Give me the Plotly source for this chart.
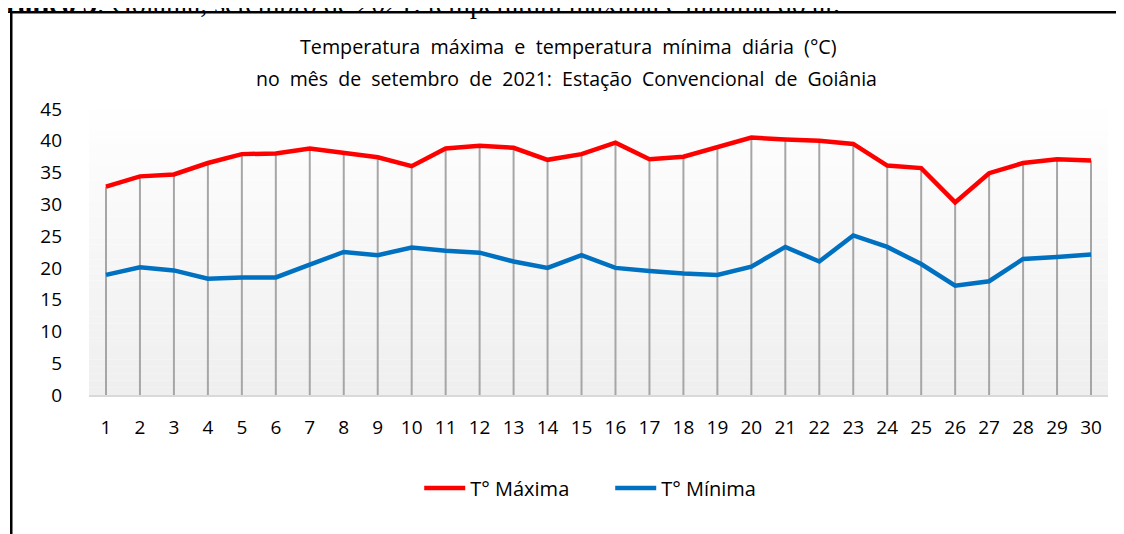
import plotly.graph_objects as go

# dias de setembro de 2021
dias = list(range(1, 31))

# temperatura máxima diária (°C)
t_max = [32.8, 34.4, 34.7, 36.5, 37.9, 38.0, 38.8, 38.1, 37.4, 36.0,
         38.8, 39.2, 38.9, 37.0, 37.9, 39.7, 37.1, 37.5, 39.0, 40.5,
         40.2, 40.0, 39.5, 36.1, 35.7, 30.3, 34.9, 36.5, 37.1, 36.9]

# temperatura mínima diária (°C)
t_min = [18.9, 20.1, 19.6, 18.3, 18.5, 18.5, 20.5, 22.5, 22.0, 23.2,
         22.7, 22.4, 21.0, 20.0, 22.0, 20.0, 19.5, 19.1, 18.9, 20.2,
         23.3, 21.0, 25.1, 23.3, 20.6, 17.2, 17.9, 21.4, 21.7, 22.1]

y_ticks = list(range(0, 50, 5))

FONTE = 'Open Sans'

fig = go.Figure()

# linhas verticais (do eixo até a máxima)
drop_x, drop_y = [], []
for d, v in zip(dias, t_max):
    drop_x += [d, d, None]
    drop_y += [0, v, None]
fig.add_trace(go.Scatter(
    x=drop_x, y=drop_y, mode='lines', showlegend=False, hoverinfo='skip',
    line=dict(color='#a6a6a6', width=2)
))

fig.add_trace(go.Scatter(
    x=dias, y=t_max, mode='lines', name='T° Máxima',
    line=dict(color='#ff0000', width=4.5)
))
fig.add_trace(go.Scatter(
    x=dias, y=t_min, mode='lines', name='T° Mínima',
    line=dict(color='#0070c0', width=4.5)
))

# fundo em degradê (branco em cima, cinza claro embaixo)
shapes = []
n = 40
for i in range(n):
    c = int(255 - (255 - 239) * (1 - (i + 0.5) / n))
    shapes.append(dict(
        type='rect', xref='paper', yref='paper', layer='below',
        x0=0, x1=1, y0=i / n, y1=(i + 1) / n,
        fillcolor=f'rgb({c},{c},{c})', line=dict(width=0)
    ))
# moldura
shapes.append(dict(
    type='rect', xref='paper', yref='paper', layer='above',
    x0=-0.0763, x1=1.03, y0=-0.55, y1=1.338,
    line=dict(color='black', width=2.5), fillcolor='rgba(0,0,0,0)'
))

# a página tem 8px de margem no body: figura um pouco menor
fig.update_layout(
    width=1116, height=526,
    margin=dict(l=81, r=16, t=101, b=139),
    paper_bgcolor='white', plot_bgcolor='rgba(0,0,0,0)',
    font=dict(family=FONTE, size=19, color='black'),
    shapes=shapes,
    showlegend=True,
    legend=dict(
        orientation='h', x=0.5115, xanchor='center', y=-0.325, yanchor='middle',
        font=dict(size=20), itemwidth=41, entrywidth=135,
        bgcolor='rgba(0,0,0,0)'
    ),
    annotations=[
        dict(text='Temperatura  máxima  e  temperatura  mínima  diária  (°C)',
             xref='paper', yref='paper', x=0.471, y=(395 - 47) / 286,
             xanchor='center', yanchor='middle', showarrow=False,
             font=dict(size=19.7)),
        dict(text='no  mês  de  setembro  de  2021:  Estação  Convencional  de  Goiânia',
             xref='paper', yref='paper', x=0.469, y=(395 - 78) / 286,
             xanchor='center', yanchor='middle', showarrow=False,
             font=dict(size=19.5)),
        dict(text='<b>Gráfico 3</b>: Goiânia, setembro de 2021: temperatura máxima e mínima do ar.',
             xref='paper', yref='paper', x=(842 - 89) / 1019, y=(395 - 21) / 286,
             xanchor='right', yanchor='bottom', showarrow=False,
             font=dict(family='Liberation Serif', size=28)),
    ],
)

fig.update_xaxes(
    range=[0.5, 30.5], tickmode='array', tickvals=dias,
    ticktext=[str(d) for d in dias], showgrid=False, zeroline=False,
    showline=True, linecolor='#d9d9d9', linewidth=2, ticks='',
    ticklabelstandoff=14
)
fig.update_yaxes(
    range=[0, 45], tickmode='array', tickvals=y_ticks, showgrid=False,
    zeroline=False, showline=False, ticks='', ticklabelstandoff=26
)

fig.write_html('out.html')
